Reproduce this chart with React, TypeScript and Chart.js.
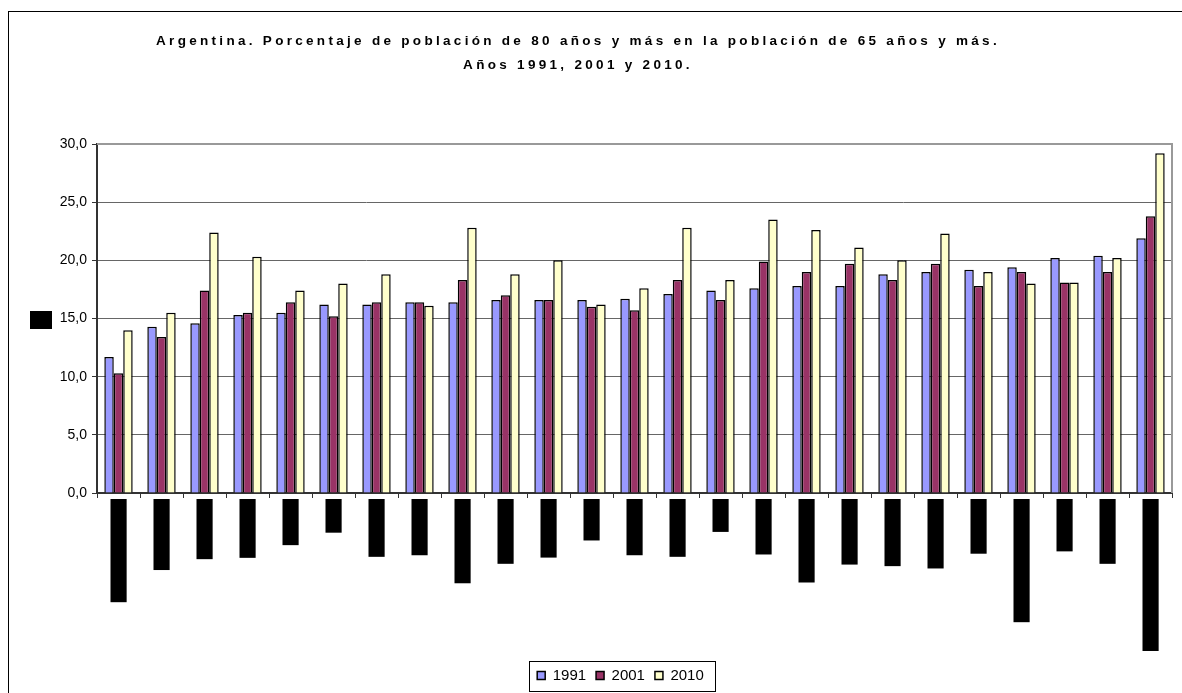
import React, { useEffect, useRef } from 'react';
import { Chart, registerables } from 'chart.js';

Chart.register(...registerables);

const categories = [
  'Tierra del Fuego', 'Santa Cruz', 'San Juan', 'Tucumán', 'Chubut', 'Jujuy', 'Neuquén', 'Misiones',
  'Buenos Aires', 'Río Negro', 'Mendoza', 'Chaco', 'Formosa', 'Santa Fe', 'Salta', 'San Luis',
  'Total del país', 'Corrientes', 'Entre Ríos', 'Catamarca', 'Córdoba', 'Santiago del Estero',
  'La Rioja', 'La Pampa', 'Ciudad de Buenos Aires',
];

const seriesNames = ['1991', '2001', '2010'];

const values1991 = [11.7, 14.3, 14.6, 15.3, 15.5, 16.2, 16.2, 16.4, 16.4, 16.6, 16.6, 16.6, 16.7, 17.1, 17.4, 17.6, 17.8, 17.8, 18.8, 19.0, 19.2, 19.4, 20.2, 20.4, 21.9];
const values2001 = [10.3, 13.4, 17.4, 15.5, 16.4, 15.2, 16.4, 16.4, 18.3, 17.0, 16.6, 16.0, 15.7, 18.3, 16.6, 19.9, 19.0, 19.7, 18.3, 19.7, 17.8, 19.0, 18.1, 19.0, 23.8];
const values2010 = [14.0, 15.5, 22.4, 20.3, 17.4, 18.0, 18.8, 16.1, 22.8, 18.8, 20.0, 16.2, 17.6, 22.8, 18.3, 23.5, 22.6, 21.1, 20.0, 22.3, 19.0, 18.0, 18.1, 20.2, 29.2];

const yMin = 0;
const yMax = 30;
const yStep = 5;

const titleLines = [
  'Argentina. Porcentaje de población de 80 años y más en la población de 65 años y más.',
  'Años 1991, 2001 y 2010.',
];
const yAxisTitle = '%';

const FONT = "'Liberation Sans', Arial, sans-serif";

const framePlugin = {
  id: 'frame',
  beforeDraw(chart: any) {
    const ctx = chart.ctx;
    ctx.save();
    ctx.fillStyle = '#fff';
    ctx.fillRect(0, 0, chart.width, chart.height);
    ctx.strokeStyle = '#000';
    ctx.lineWidth = 1;
    ctx.strokeRect(8.5, 11.5, chart.width + 50, chart.height + 50);
    ctx.restore();
  },
};

const legendShiftPlugin = {
  id: 'legendShift',
  afterLayout(chart: any) {
    const lg = chart.legend;
    if (lg) {
      lg.left += 4.5;
      lg.right += 4.5;
    }
  },
};

const decorPlugin = {
  id: 'decor',
  afterDraw(chart: any) {
    const ctx = chart.ctx;
    const area = chart.chartArea;
    ctx.save();
    // plot area border (top & right)
    ctx.strokeStyle = '#999';
    ctx.lineWidth = 2;
    ctx.beginPath();
    ctx.moveTo(area.left, area.top);
    ctx.lineTo(area.right, area.top);
    ctx.lineTo(area.right, area.bottom);
    ctx.stroke();

    // title
    ctx.fillStyle = '#000';
    ctx.font = `bold 13.5px ${FONT}`;
    ctx.textAlign = 'center';
    ctx.textBaseline = 'alphabetic';
    (ctx as any).letterSpacing = '3.3px';
    ctx.fillText(titleLines[0], 578, 45);
    ctx.fillText(titleLines[1], 578, 69);
    (ctx as any).letterSpacing = '0px';

    // y axis title (rendered as a black box)
    ctx.font = `bold 14px ${FONT}`;
    ctx.textAlign = 'center';
    ctx.textBaseline = 'middle';
    const tw = ctx.measureText(yAxisTitle).width;
    const cx = area.left - 56;
    const cy = (area.top + area.bottom) / 2 + 1.5;
    const bw = tw + 10;
    const bh = 18;
    ctx.fillStyle = '#000';
    ctx.fillRect(Math.round(cx - bw / 2), Math.round(cy - bh / 2), Math.round(bw), bh);
    ctx.fillText(yAxisTitle, cx, cy);

    // legend border
    const legend = chart.legend;
    if (legend && legend.legendHitBoxes && legend.legendHitBoxes.length) {
      const hb = legend.legendHitBoxes;
      const first = hb[0];
      const last = hb[hb.length - 1];
      const cyL = first.top + first.height / 2;
      const l = Math.round(first.left - 8) + 0.5;
      const r = Math.round(last.left + last.width + 11) + 0.5;
      const t = Math.round(cyL - 15) + 0.5;
      ctx.strokeStyle = '#000';
      ctx.lineWidth = 1;
      ctx.strokeRect(l, t, r - l, 30);
    }
    ctx.restore();
  },
};

export default function App() {
  const canvasRef = useRef<HTMLCanvasElement | null>(null);

  useEffect(() => {
    if (!canvasRef.current) return;
    const chart = new Chart(canvasRef.current, {
      type: 'bar',
      data: {
        labels: categories,
        datasets: [
          { label: seriesNames[0], data: values1991, backgroundColor: '#9999FF', borderColor: '#000', borderWidth: 1.5 },
          { label: seriesNames[1], data: values2001, backgroundColor: '#993366', borderColor: '#000', borderWidth: 1.5 },
          { label: seriesNames[2], data: values2010, backgroundColor: '#FFFFCC', borderColor: '#000', borderWidth: 1.5 },
        ],
      },
      options: {
        responsive: false,
        animation: false,
        events: [],
        layout: { padding: { left: 60, right: 10, top: 144, bottom: 0 } },
        datasets: { bar: { categoryPercentage: 0.66, barPercentage: 1.0 } },
        plugins: {
          title: { display: false },
          tooltip: { enabled: false },
          legend: {
            display: true,
            position: 'bottom',
            labels: {
              boxWidth: 8,
              boxHeight: 8,
              padding: 10,
              color: '#000',
              font: { family: FONT, size: 15 },
            },
          },
        },
        scales: {
          x: {
            type: 'category',
            offset: true,
            grid: { offset: true, drawOnChartArea: false, drawTicks: true, tickLength: 5, color: '#333', lineWidth: 1 },
            border: { display: true, color: '#333', width: 2 },
            ticks: {
              autoSkip: false,
              minRotation: 90,
              maxRotation: 90,
              padding: 1,
              color: '#000',
              font: { family: FONT, size: 14, lineHeight: 0.01 },
              showLabelBackdrop: true,
              backdropColor: '#000',
              backdropPadding: { top: 8, bottom: 8, left: 1, right: 0 },
            },
            afterFit: (scale: any) => { scale.height = 165; },
          },
          y: {
            min: yMin,
            max: yMax,
            grid: { color: '#666', lineWidth: 1, tickLength: 5, tickColor: '#333' },
            border: { display: true, color: '#333', width: 2 },
            ticks: {
              stepSize: yStep,
              padding: 5,
              color: '#000',
              font: { family: FONT, size: 14 },
              callback: (v: any) => Number(v).toFixed(1).replace('.', ','),
            },
            afterFit: (scale: any) => { scale.width = 37; },
          },
        },
      },
      plugins: [framePlugin, legendShiftPlugin, decorPlugin],
    });
    return () => chart.destroy();
  }, []);

  return (
    <div style={{ position: 'fixed', left: 0, top: 0, width: 1182, height: 693, background: '#fff', overflow: 'hidden' }}>
      <canvas ref={canvasRef} width={1182} height={693} style={{ display: 'block' }} />
    </div>
  );
}
